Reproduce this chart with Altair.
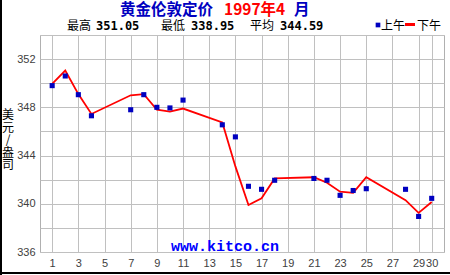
import altair as alt
import pandas as pd

days = [1, 2, 3, 4, 7, 8, 9, 10, 11, 14, 15, 16, 17, 18, 21, 22, 23, 24, 25, 28, 29, 30]
am = [349.8, 350.6, 349.05, 347.3, 347.8, 349.05, 348.0, 347.95, 348.6, 346.55, 345.55,
      341.45, 341.2, 341.95, 342.1, 341.95, 340.7, 341.1, 341.25, 341.2, 338.95, 340.45]
pm = [349.94, 351.05, 349.1, 347.45, 349.0, 349.1, 347.8, 347.65, 347.9, 346.75, 343.1,
      339.9, 340.45, 342.1, 342.2, 341.75, 341.0, 340.9, 342.2, 340.3, 339.25, 340.15]
x_ticks = [1, 3, 5, 7, 9, 11, 13, 15, 17, 19, 21, 23, 25, 27, 29, 30]
y_grid = [336, 338, 340, 342, 344, 346, 348, 350, 352, 354]

df = pd.DataFrame({"day": days, "am": am, "pm": pm})
one = pd.DataFrame({"k": [0]})

W, H = 404, 217
BLUE = "#0000c0"
RED = "#ff0000"

xs = alt.Scale(domain=[0.07, 30.94], nice=False, zero=False)
ys = alt.Scale(domain=[336, 354], nice=False, zero=False)

x_axis = alt.Axis(values=x_ticks, title=None, ticks=False, domain=False,
                  labelOverlap=False, labelFlush=False, labelPadding=5,
                  labelFont="Liberation Sans", labelFontSize=11,
                  labelColor="#404040", gridColor="#c0c0c0", gridOpacity=1)
y_axis = alt.Axis(values=y_grid, title=None, ticks=False, domain=False,
                  labelOverlap=False,
                  labelExpr="datum.value % 4 == 0 ? datum.label : ''",
                  labelPadding=5, labelFont="Liberation Sans", labelFontSize=11,
                  labelColor="#404040", gridColor="#c0c0c0", gridOpacity=1)

base = alt.Chart(df)

line = base.mark_line(color=RED, strokeWidth=1.8, clip=True).encode(
    x=alt.X("day:Q", scale=xs, axis=x_axis),
    y=alt.Y("pm:Q", scale=ys, axis=y_axis),
)

pts = base.mark_square(color=BLUE, size=26, opacity=1, clip=True).encode(
    x=alt.X("day:Q", scale=xs, axis=x_axis),
    y=alt.Y("am:Q", scale=ys, axis=y_axis),
)

def txt(s, x, y, color="#000000", size=12, weight="normal", font="Noto Sans CJK SC",
        align="left", baseline="middle", **kw):
    return alt.Chart(one).mark_text(
        text=s, align=align, baseline=baseline, color=color, fontSize=size,
        fontWeight=weight, font=font, **kw
    ).encode(x=alt.value(x), y=alt.value(y))

OX, OY = 40, 35  # plot origin within the image

texts = [
    txt("黄金伦敦定价", 120 - OX, 10 - OY, color=BLUE, size=15.5, weight="bold"),
    txt("1997年4", 224 - OX, 10 - OY, color=RED, size=15.5, weight="bold"),
    txt("月", 294 - OX, 10 - OY, color=BLUE, size=15.5, weight="bold"),
    txt("最高", 67 - OX, 26 - OY),
    txt("351.05", 96 - OX, 26 - OY, size=12, weight="bold", font="DejaVu Sans Mono"),
    txt("最低", 161 - OX, 26 - OY),
    txt("338.95", 191 - OX, 26 - OY, size=12, weight="bold", font="DejaVu Sans Mono"),
    txt("平均", 250 - OX, 26 - OY),
    txt("344.59", 280 - OX, 26 - OY, size=12, weight="bold", font="DejaVu Sans Mono"),
    txt("上午", 381 - OX, 26 - OY),
    txt("下午", 417 - OX, 26 - OY),
    txt("美|元|/|盎|司", 8 - OX, 110 - OY, size=12, align="center", baseline="top",
        lineBreak="|", lineHeight=12.5),
    txt("www.kitco.cn", 225 - OX, 246 - OY, color="#0000ff", size=15, weight="bold",
        font="Liberation Mono", align="center"),
]

legend_sq = alt.Chart(one).mark_square(color=BLUE, size=22, opacity=1).encode(
    x=alt.value(378 - OX), y=alt.value(25 - OY))
legend_ln = alt.Chart(one).mark_rule(color=RED, strokeWidth=3).encode(
    x=alt.value(405 - OX), x2=alt.value(415 - OX), y=alt.value(24.5 - OY))

frame_left = alt.Chart(one).mark_rule(color="#000000", strokeWidth=2).encode(
    x=alt.value(1 - OX), y=alt.value(0 - OY), y2=alt.value(275 - OY))
frame_bottom = alt.Chart(one).mark_rule(color="#000000", strokeWidth=2).encode(
    x=alt.value(0 - OX), x2=alt.value(450 - OX), y=alt.value(273 - OY))

chart = alt.layer(line, pts, legend_sq, legend_ln, frame_left, frame_bottom, *texts).properties(
    width=W, height=H,
    autosize=alt.AutoSizeParams(type="none"),
    padding={"left": OX, "top": OY, "right": 450 - OX - W, "bottom": 275 - OY - H},
    background="#ffffff",
).configure_view(stroke="#b0b0b0", strokeWidth=1)

chart.save("out.html", embed_options={"renderer": "svg", "actions": False})
